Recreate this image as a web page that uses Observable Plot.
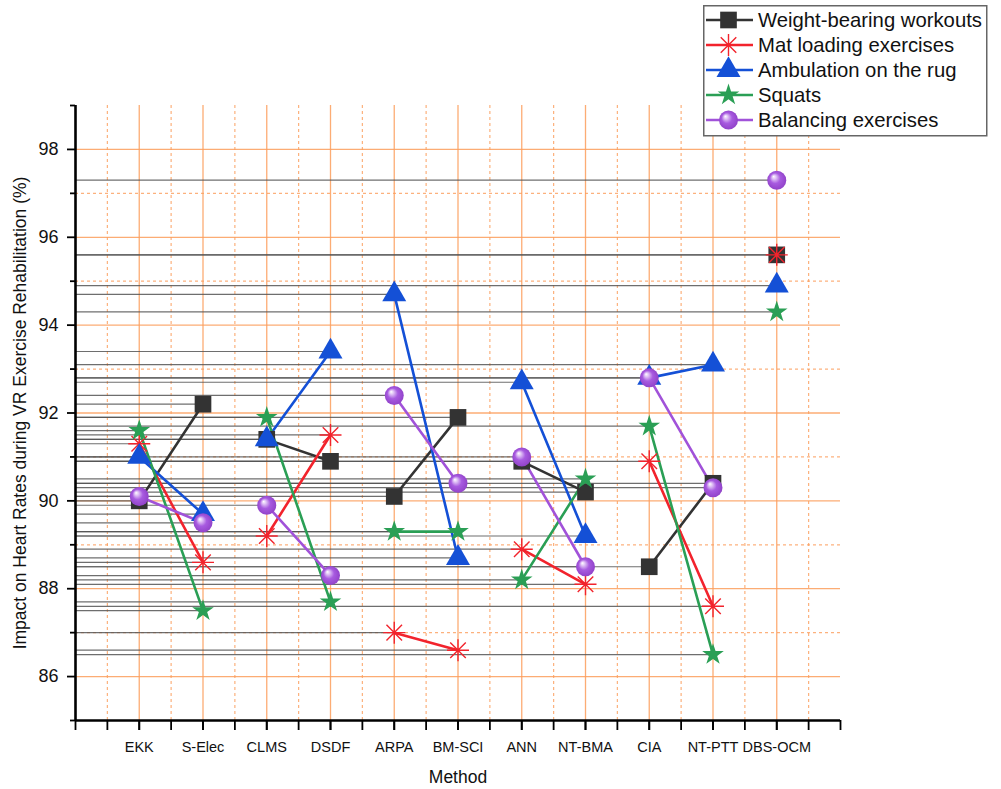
<!DOCTYPE html>
<html>
<head>
<meta charset="utf-8">
<script src="https://cdn.jsdelivr.net/npm/d3@7"></script>
<script src="https://cdn.jsdelivr.net/npm/@observablehq/plot@0.6"></script>
<style>
  body { margin: 0; background: #fff; font-family: "Liberation Sans", Arial, sans-serif; }
  #wrap { position: relative; width: 1001px; height: 789px; }
  #legend { position: absolute; left: 703px; top: 5px; }
</style>
</head>
<body>
<div id="wrap"></div>
<script>
// Methods along the x axis
const methods = ["EKK", "S-Elec", "CLMS", "DSDF", "ARPA", "BM-SCI", "ANN", "NT-BMA", "CIA", "NT-PTT", "DBS-OCM"];
// Methods are joined in pairs by a line segment; DBS-OCM stands alone
const segments = [1, 1, 2, 2, 3, 3, 4, 4, 5, 5, 6];

// Impact on heart rates (%) per exercise
const weightBearing = [90.0, 92.2, 91.4, 90.9, 90.1, 91.9, 90.9, 90.2, 88.5, 90.4, 95.6];
const matLoading    = [91.3, 88.6, 89.2, 91.5, 87.0, 86.6, 88.9, 88.1, 90.9, 87.6, 95.6];
const ambulation    = [91.0, 89.7, 91.4, 93.4, 94.7, 88.7, 92.7, 89.2, 92.8, 93.1, 94.9];
const squats        = [91.6, 87.5, 91.9, 87.7, 89.3, 89.3, 88.2, 90.5, 91.7, 86.5, 94.3];
const balancing     = [90.1, 89.5, 89.9, 88.3, 92.4, 90.4, 91.0, 88.5, 92.8, 90.3, 97.3];

const seriesNames = ["Weight-bearing workouts", "Mat loading exercises", "Ambulation on the rug", "Squats", "Balancing exercises"];
const seriesValues = [weightBearing, matLoading, ambulation, squats, balancing];
const seriesColors = ["#333333", "#f2232c", "#1450d6", "#2a9f55", "#a152d9"];

// Axis ticks
const yMajorTicks = [86, 88, 90, 92, 94, 96, 98];
const yMinorTicks = [85, 87, 89, 91, 93, 95, 97, 99];
const xDomain = [0, 12];
const yDomain = [85, 99];

// Eight-spoke asterisk marker
const asterisk = {
  draw(ctx, size) {
    const r = Math.sqrt(size / Math.PI);
    const d = r * Math.SQRT1_2;
    ctx.moveTo(-r, 0); ctx.lineTo(r, 0);
    ctx.moveTo(0, -r); ctx.lineTo(0, r);
    ctx.moveTo(-d, -d); ctx.lineTo(d, d);
    ctx.moveTo(-d, d); ctx.lineTo(d, -d);
  }
};

const markers = [
  {symbol: "square", r: 9.4, fill: seriesColors[0], stroke: "none"},
  {symbol: asterisk, r: 11, fill: "none", stroke: seriesColors[1]},
  {symbol: "triangle", r: 8.9, fill: seriesColors[2], stroke: "none"},
  {symbol: "star", r: 6.8, fill: seriesColors[3], stroke: "none"},
  {symbol: "circle", r: 9.5, fill: "url(#ballGrad)", stroke: "none"}
];

// Long table built from the named arrays
const rows = seriesNames.flatMap((name, s) =>
  methods.map((m, i) => ({series: name, method: m, x: i + 1, v: seriesValues[s][i], seg: segments[i]}))
);

const methodTicks = methods.map((_, i) => i + 1);
const halfTicks = d3.range(xDomain[0], xDomain[1] + 0.25, 0.5);
const gridSolidX = methodTicks;
const gridDashX = methodTicks.map(t => t - 0.5).concat([methodTicks[methodTicks.length - 1] + 0.5]);
const gridDashY = yMinorTicks.filter(v => v > yDomain[0] && v < yDomain[1]);

const gridOrange = "#fb9d5c";

const marks = [
  // orange grid
  Plot.ruleY(yMajorTicks, {stroke: gridOrange, strokeWidth: 1.3, strokeOpacity: 0.85}),
  Plot.ruleY(gridDashY, {stroke: gridOrange, strokeWidth: 1.2, strokeOpacity: 0.8, strokeDasharray: "3,3"}),
  Plot.ruleX(gridSolidX, {stroke: gridOrange, strokeWidth: 1.3, strokeOpacity: 0.85}),
  Plot.ruleX(gridDashX, {stroke: gridOrange, strokeWidth: 1.2, strokeOpacity: 0.8, strokeDasharray: "3,3"}),
  // horizontal drop lines from the y axis to each point
  Plot.ruleY(rows, {y: "v", x1: xDomain[0], x2: "x", stroke: "#555", strokeWidth: 1.2, strokeOpacity: 0.85}),
];

// series: connecting lines then markers, in drawing order
seriesNames.forEach((name, s) => {
  const data = rows.filter(d => d.series === name);
  marks.push(Plot.line(data, {x: "x", y: "v", z: "seg", stroke: seriesColors[s], strokeWidth: 2.6}));
});
seriesNames.forEach((name, s) => {
  const data = rows.filter(d => d.series === name);
  const mk = markers[s];
  marks.push(Plot.dot(data, {
    x: "x", y: "v", symbol: mk.symbol, r: mk.r,
    fill: mk.fill, stroke: mk.stroke, strokeWidth: mk.stroke === "none" ? 0 : 1.4
  }));
});

marks.push(
  // axes
  Plot.axisY({ticks: yMajorTicks, tickSize: 8, tickPadding: 9, fontSize: 18, strokeWidth: 1.8, stroke: "#000", color: "#111"}),
  Plot.axisY({ticks: yMinorTicks, tickSize: 5, tickFormat: () => "", strokeWidth: 1.8, stroke: "#000"}),
  Plot.axisX({ticks: halfTicks, tickSize: 10, tickFormat: () => "", strokeWidth: 1.8, stroke: "#000"}),
  Plot.axisX({ticks: methodTicks, tickSize: 10, tickPadding: 11, tickFormat: i => methods[i - 1], fontSize: 14.5, strokeWidth: 1.8, stroke: "#000", color: "#111"}),
  Plot.ruleX([xDomain[0]], {stroke: "#000", strokeWidth: 2.6}),
  Plot.ruleY([yDomain[0]], {stroke: "#000", strokeWidth: 2.6}),
  // axis titles
  Plot.text(["Impact on Heart Rates during VR Exercise Rehabilitation (%)"], {
    frameAnchor: "left", rotate: -90, dx: -55, textAnchor: "middle", lineAnchor: "middle", fontSize: 17.5, fill: "#111"
  }),
  Plot.text(["Method"], {
    frameAnchor: "bottom", dy: 57, textAnchor: "middle", lineAnchor: "middle", fontSize: 17.5, fill: "#111"
  })
);

const chart = Plot.plot({
  width: 1001,
  height: 789,
  marginTop: 105,
  marginRight: 161,
  marginBottom: 69,
  marginLeft: 75,
  style: {fontFamily: "'Liberation Sans', Arial, sans-serif", background: "white", overflow: "visible"},
  x: {type: "linear", domain: xDomain, label: null},
  y: {type: "linear", domain: yDomain, label: null},
  marks
});

// gradient for the shaded ball markers
const defs = d3.select(chart).insert("defs", ":first-child");
const grad = defs.append("radialGradient").attr("id", "ballGrad")
  .attr("cx", 0.5).attr("cy", 0.5).attr("r", 0.55).attr("fx", 0.33).attr("fy", 0.3);
grad.append("stop").attr("offset", 0).attr("stop-color", "#ffffff");
grad.append("stop").attr("offset", 0.18).attr("stop-color", "#e2c6f6");
grad.append("stop").attr("offset", 0.5).attr("stop-color", "#a85be0");
grad.append("stop").attr("offset", 1).attr("stop-color", "#8e3fc6");

const wrap = document.getElementById("wrap");
wrap.appendChild(chart);

// legend box
const lw = 283, lh = 130, rowH = 25;
const legend = d3.select(wrap).append("svg").attr("id", "legend")
  .attr("width", lw + 2).attr("height", lh + 2);
legend.append("rect").attr("x", 0.75).attr("y", 0.75).attr("width", lw).attr("height", lh)
  .attr("fill", "white").attr("stroke", "#666").attr("stroke-width", 1.5);
seriesNames.forEach((name, s) => {
  const cy = 15 + s * rowH;
  const g = legend.append("g");
  g.append("line").attr("x1", 3).attr("x2", 50).attr("y1", cy).attr("y2", cy)
    .attr("stroke", seriesColors[s]).attr("stroke-width", 2.6);
  const mk = markers[s];
  const type = typeof mk.symbol === "string" ? {square: d3.symbolSquare, triangle: d3.symbolTriangle, star: d3.symbolStar, circle: d3.symbolCircle}[mk.symbol] : mk.symbol;
  g.append("path").attr("transform", `translate(25.5,${cy})`)
    .attr("d", d3.symbol(type, Math.PI * mk.r * mk.r)())
    .attr("fill", mk.fill).attr("stroke", mk.stroke === "none" ? null : mk.stroke)
    .attr("stroke-width", mk.stroke === "none" ? null : 1.4);
  g.append("text").attr("x", 55).attr("y", cy).attr("dy", "0.35em")
    .attr("font-size", 20.3).attr("fill", "#111").text(name);
});
</script>
</body>
</html>
